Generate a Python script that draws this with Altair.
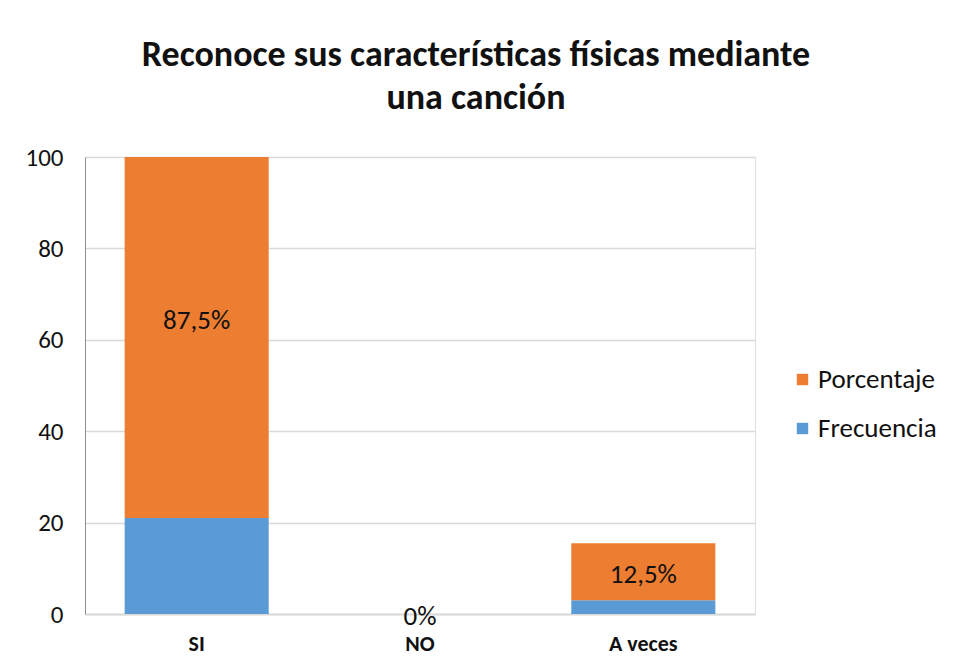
import altair as alt
import pandas as pd

categories = ["SI", "NO", "A veces"]
frecuencia = [21, 0, 3]
porcentaje = [87.5, 0, 12.5]
labels = ["87,5%", "0%", "12,5%"]
series = ["Porcentaje", "Frecuencia"]
colors = ["#ED7D31", "#5B9BD5"]

rows = []
for c, f, p in zip(categories, frecuencia, porcentaje):
    rows.append({"cat": c, "serie": "Frecuencia", "valor": f, "orden": 0})
    rows.append({"cat": c, "serie": "Porcentaje", "valor": p, "orden": 1})
long_df = pd.DataFrame(rows)
wide_df = pd.DataFrame({"cat": categories, "freq": frecuencia, "pct": porcentaje, "label": labels})

FONT = "Carlito, Lato, sans-serif"

x = alt.X("cat:N", sort=categories, title=None,
          scale=alt.Scale(paddingInner=0.355, paddingOuter=0.1775),
          axis=alt.Axis(labelAngle=0, labelFontWeight="bold", labelFontSize=22,
                        labelColor="#111", labelPadding=19, ticks=False,
                        domainColor="#D9D9D9", domainWidth=2, labelFont=FONT))

bars = alt.Chart(long_df).mark_bar(clip=True).encode(
    x=x,
    y=alt.Y("valor:Q", stack="zero", title=None,
            scale=alt.Scale(domain=[0, 100], nice=False),
            axis=alt.Axis(values=[0, 20, 40, 60, 80, 100], ticks=False, labelPadding=22,
                          labelFontSize=25, labelColor="#111", labelFont=FONT,
                          domainColor="#8C8C8C", gridColor="#D9D9D9", gridWidth=1.5)),
    color=alt.Color("serie:N", scale=alt.Scale(domain=series, range=colors),
                    legend=alt.Legend(title=None, orient="none", legendX=704, legendY=209,
                                      symbolType="square", symbolSize=130, symbolStrokeWidth=0,
                                      labelFontSize=27, labelFont=FONT, labelColor="#111",
                                      rowPadding=21, labelOffset=2)),
    order=alt.Order("orden:Q"),
)

text = alt.Chart(wide_df).transform_calculate(
    mid="datum.freq + datum.pct / 2"
).mark_text(fontSize=27, font=FONT, color="#111", baseline="middle", dy=3).encode(
    x=alt.X("cat:N", sort=categories),
    y=alt.Y("mid:Q"),
    text="label:N",
)

chart = alt.layer(bars, text).properties(
    width=670, height=457,
    autosize=alt.AutoSizeParams(type="none"),
    padding={"left": 77, "top": 149, "right": 190, "bottom": 45},
    title=alt.Title(["Reconoce sus características físicas mediante", "una canción"],
                    fontSize=36, font=FONT, fontWeight="bold", color="#111",
                    anchor="middle", dx=56, offset=28, lineHeight=43),
).configure_view(stroke=None).configure(background="white")

chart.save("out.html", embed_options={"renderer": "svg", "actions": False})
